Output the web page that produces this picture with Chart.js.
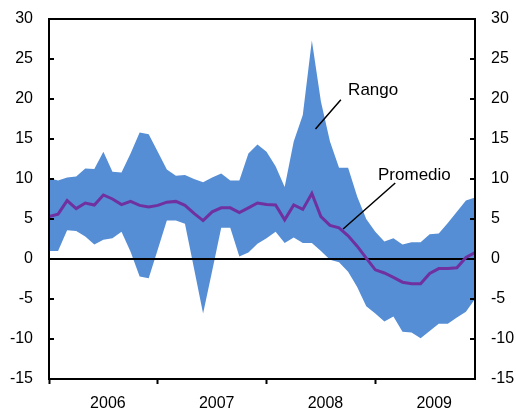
<!DOCTYPE html>
<html>
<head>
<meta charset="utf-8">
<script src="https://cdn.jsdelivr.net/npm/chart.js@4.4.0/dist/chart.umd.min.js"></script>
<style>
  body { margin: 0; background: #fff; }
  canvas { display: block; }
</style>
</head>
<body>
<canvas id="myChart" width="516" height="409"></canvas>
<script>
// monthly data, Jan 2006 .. Dec 2009
const years = ['2006', '2007', '2008', '2009'];
const upper = [10.1, 9.8, 10.2, 10.3, 11.3, 11.25, 13.4, 10.9, 10.8, 13.2, 15.8, 15.6,
               13.4, 11.2, 10.4, 10.5, 10.0, 9.6, 10.2, 10.7, 9.8, 9.8, 13.2, 14.3,
               13.4, 11.6, 9.0, 14.7, 18.0, 27.3, 19.7, 14.7, 11.4, 11.4, 7.8, 5.0,
               3.4, 2.2, 2.6, 1.8, 2.1, 2.1, 3.1, 3.2, 4.5, 5.9, 7.3, 7.7];
const lower = [1.0, 1.0, 3.6, 3.5, 2.8, 1.8, 2.4, 2.6, 3.4, 0.9, -2.2, -2.4,
               1.2, 4.8, 4.8, 4.4, -1.2, -6.8, -1.5, 3.9, 3.9, 0.3, 0.8, 1.9,
               2.6, 3.4, 2.0, 2.7, 2.0, 2.0, 1.0, -0.1, -0.4, -1.6, -3.5, -5.9,
               -6.8, -7.8, -7.2, -9.1, -9.2, -9.9, -9.0, -8.1, -8.1, -7.3, -6.6, -5.0];
const mean = [5.3, 5.6, 7.3, 6.3, 7.0, 6.75, 8.0, 7.5, 6.8, 7.2, 6.7, 6.5,
              6.7, 7.1, 7.2, 6.7, 5.7, 4.8, 5.9, 6.4, 6.4, 5.8, 6.4, 7.0,
              6.8, 6.75, 4.9, 6.75, 6.2, 8.2, 5.3, 4.2, 3.9, 2.9, 1.6, 0.1,
              -1.35, -1.75, -2.3, -2.9, -3.1, -3.1, -1.8, -1.2, -1.2, -1.1, 0.2, 0.8];

const FONT = "'Liberation Sans', Arial, sans-serif";
const toPoints = arr => arr.map((v, i) => ({ x: i, y: v }));

// frame, zero line, inward y ticks and the two labels with leader lines
const framePlugin = {
    id: 'frame',
    afterDatasetDraw(chart, args) {
        if (args.index !== 1) return;
        const { ctx, chartArea, scales } = chart;
        const y0 = scales.y.getPixelForValue(0);
        ctx.save();
        ctx.strokeStyle = '#000';
        ctx.lineWidth = 2;
        ctx.beginPath();
        ctx.moveTo(chartArea.left, y0);
        ctx.lineTo(chartArea.right, y0);
        ctx.stroke();
        ctx.restore();
    },
    afterDraw(chart) {
        const { ctx, chartArea: a, scales } = chart;
        const px = v => scales.x.getPixelForValue(v);
        const py = v => scales.y.getPixelForValue(v);
        ctx.save();
        ctx.strokeStyle = '#000';
        ctx.lineWidth = 2;
        ctx.strokeRect(a.left, a.top, a.right - a.left, a.bottom - a.top);
        scales.y.ticks.forEach(t => {
            const y = py(t.value);
            ctx.beginPath();
            ctx.moveTo(a.left, y); ctx.lineTo(a.left + 5, y);
            ctx.moveTo(a.right, y); ctx.lineTo(a.right - 5, y);
            ctx.stroke();
        });

        ctx.lineWidth = 1.5;
        ctx.beginPath();
        ctx.moveTo(px(32.2), py(19.9)); ctx.lineTo(px(29.4), py(16.25));
        ctx.moveTo(px(38.2), py(9.5)); ctx.lineTo(px(32.45), py(3.75));
        ctx.stroke();

        ctx.fillStyle = '#000';
        ctx.font = '17px ' + FONT;
        ctx.textBaseline = 'alphabetic';
        ctx.textAlign = 'left';
        ctx.fillText('Rango', px(33.0), py(20.5));
        ctx.fillText('Promedio', px(36.3), py(9.9));
        ctx.restore();
    }
};

const ctx = document.getElementById('myChart');

// invisible tick marks provide the gap between axis line and labels
const yGrid = {
    display: true,
    drawOnChartArea: false,
    drawTicks: true,
    tickLength: 16,
    tickColor: 'rgba(0,0,0,0)'
};
const yTickOpts = {
    stepSize: 5,
    padding: 0,
    color: '#000',
    font: { family: FONT, size: 16 }
};

new Chart(ctx, {
    type: 'line',
    data: {
        datasets: [
            {
                label: 'Promedio',
                data: toPoints(mean),
                borderColor: '#7030A0',
                borderWidth: 3,
                pointRadius: 0,
                fill: false,
                tension: 0
            },
            {
                label: 'Rango',
                data: toPoints(upper),
                borderWidth: 0,
                borderColor: 'rgba(0,0,0,0)',
                backgroundColor: '#558ED5',
                pointRadius: 0,
                fill: '+1',
                tension: 0
            },
            {
                label: 'min',
                data: toPoints(lower),
                borderWidth: 0,
                borderColor: 'rgba(0,0,0,0)',
                pointRadius: 0,
                fill: false,
                tension: 0
            }
        ]
    },
    options: {
        responsive: false,
        animation: false,
        layout: { padding: { top: 19, left: 0, right: 0, bottom: 0 } },
        plugins: {
            legend: { display: false },
            tooltip: { enabled: false }
        },
        scales: {
            x: {
                type: 'linear',
                min: 0,
                max: upper.length - 1,
                afterBuildTicks: scale => {
                    scale.ticks = years.flatMap((y, k) => [{ value: 12 * k }, { value: 12 * k + 6.5 }]);
                },
                afterFit: scale => { scale.height = 30; },
                grid: {
                    drawOnChartArea: false,
                    tickLength: 5,
                    tickWidth: 2,
                    tickColor: c => (c.tick && c.tick.value % 12 === 0) ? '#000' : 'rgba(0,0,0,0)'
                },
                border: { display: false },
                ticks: {
                    autoSkip: false,
                    maxRotation: 0,
                    padding: 10,
                    color: '#000',
                    font: { family: FONT, size: 16 },
                    callback: v => v % 12 === 0 ? '' : years[Math.floor(v / 12)]
                }
            },
            y: {
                position: 'left',
                min: -15,
                max: 30,
                afterFit: scale => { scale.width = 49; },
                grid: yGrid,
                border: { display: false },
                ticks: yTickOpts
            },
            y2: {
                position: 'right',
                min: -15,
                max: 30,
                afterFit: scale => { scale.width = 41; },
                grid: yGrid,
                border: { display: false },
                ticks: yTickOpts
            }
        }
    },
    plugins: [framePlugin]
});
</script>
</body>
</html>
